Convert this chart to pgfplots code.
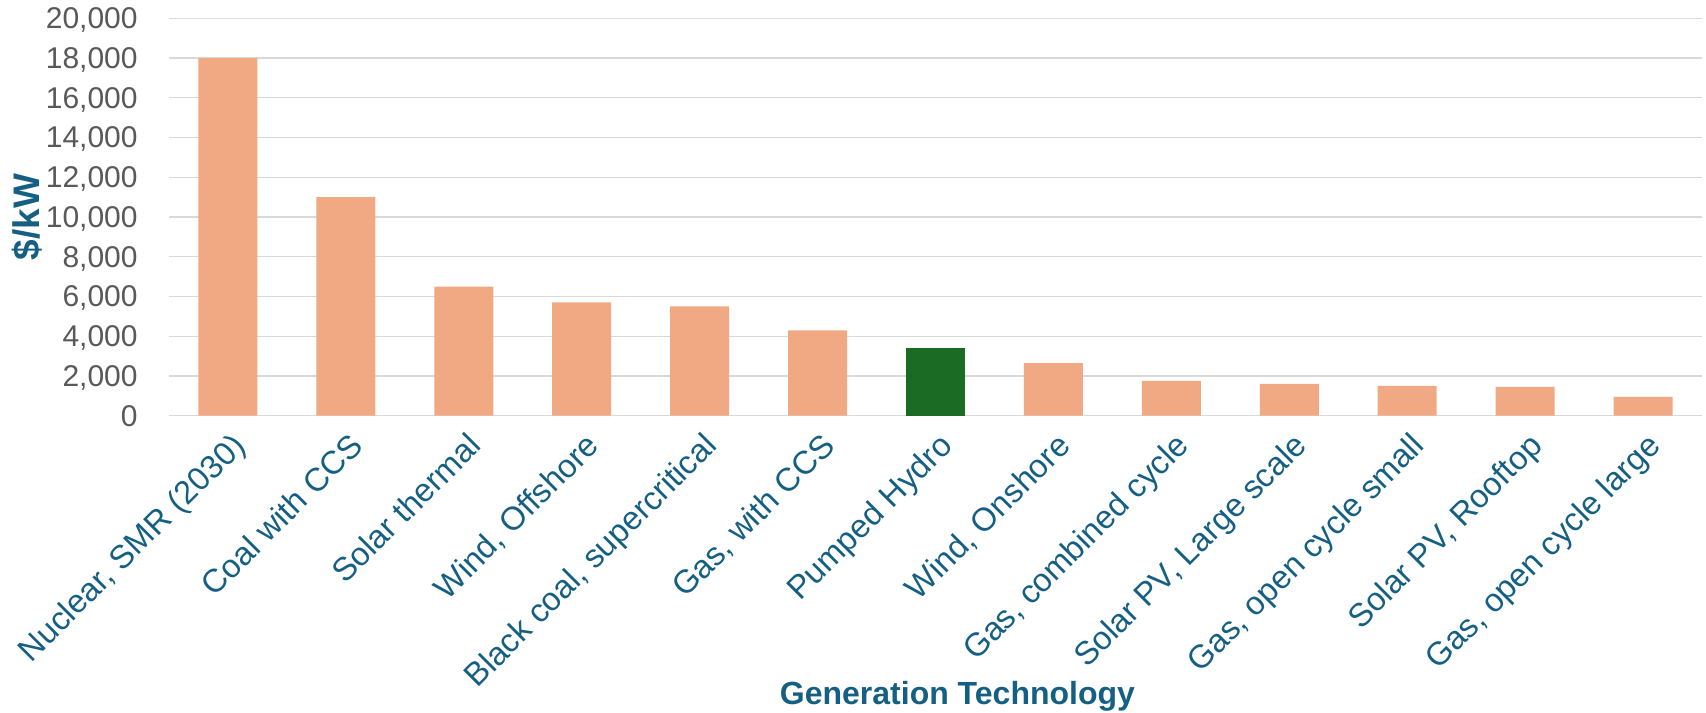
\documentclass[border=0pt]{standalone}
\usepackage{fontspec}
\setmainfont{Liberation Sans}
\usepackage{pgfplots}
\pgfplotsset{compat=1.18}
\definecolor{peach}{HTML}{F1A983}
\definecolor{hydro}{HTML}{1B6B24}
\definecolor{navy}{HTML}{156082}
\definecolor{tickgray}{HTML}{595959}
\definecolor{gridgray}{HTML}{D9D9D9}
\begin{document}
\begin{tikzpicture}
\path[use as bounding box] (0,0) rectangle (853pt,356pt);
\begin{axis}[
    at={(84.5pt,148.15pt)}, anchor=south west,
    width=766.5pt, height=198.7pt, scale only axis,
    ymin=0, ymax=20000, ytick distance=2000,
    xmin=-0.5, xmax=12.5, xtick={0,...,12},
    xticklabels={{Nuclear, SMR (2030)},{Coal with CCS},{Solar thermal},
      {Wind, Offshore},{Black coal, supercritical},{Gas, with CCS},
      {Pumped Hydro},{Wind, Onshore},{Gas, combined cycle},
      {Solar PV, Large scale},{Gas, open cycle small},{Solar PV, Rooftop},
      {Gas, open cycle large}},
    axis line style={draw=none},
    major tick length=0pt,
    ymajorgrids, grid style={gridgray, line width=0.7pt},
    scaled ticks=false,
    /pgf/number format/.cd, 1000 sep={,}, assume math mode=true,
    /pgfplots/.cd,
    yticklabel style={font=\fontsize{15}{18}\selectfont, text=tickgray,
      anchor=east, inner sep=0pt, xshift=-15.5pt, text depth=0pt},
    xticklabel style={font=\fontsize{16.3}{19}\selectfont, text=navy,
      rotate=45, anchor=north east, inner sep=0pt, yshift=-6pt, xshift=-4.5pt},
    xlabel={Generation Technology},
    xlabel style={font=\bfseries\fontsize{16}{19}\selectfont, text=navy,
      at={(axis description cs:0.5143,0)}, anchor=base, yshift=-144.15pt},
    ylabel={\$/kW},
    ylabel style={font=\bfseries\fontsize{18.5}{22}\selectfont, text=navy,
      at={(axis description cs:-0.0926,0.5)}, anchor=center},
  ]
  \addplot[ybar, bar width=29.5pt, bar shift=0pt, fill=peach, draw=none]
    coordinates {(0,18000) (1,11000) (2,6500) (3,5700) (4,5500) (5,4300)
      (7,2650) (8,1750) (9,1600) (10,1500) (11,1450) (12,950)};
  \addplot[ybar, bar width=29.5pt, bar shift=0pt, fill=hydro, draw=none]
    coordinates {(6,3400)};
\end{axis}
\end{tikzpicture}
\end{document}
